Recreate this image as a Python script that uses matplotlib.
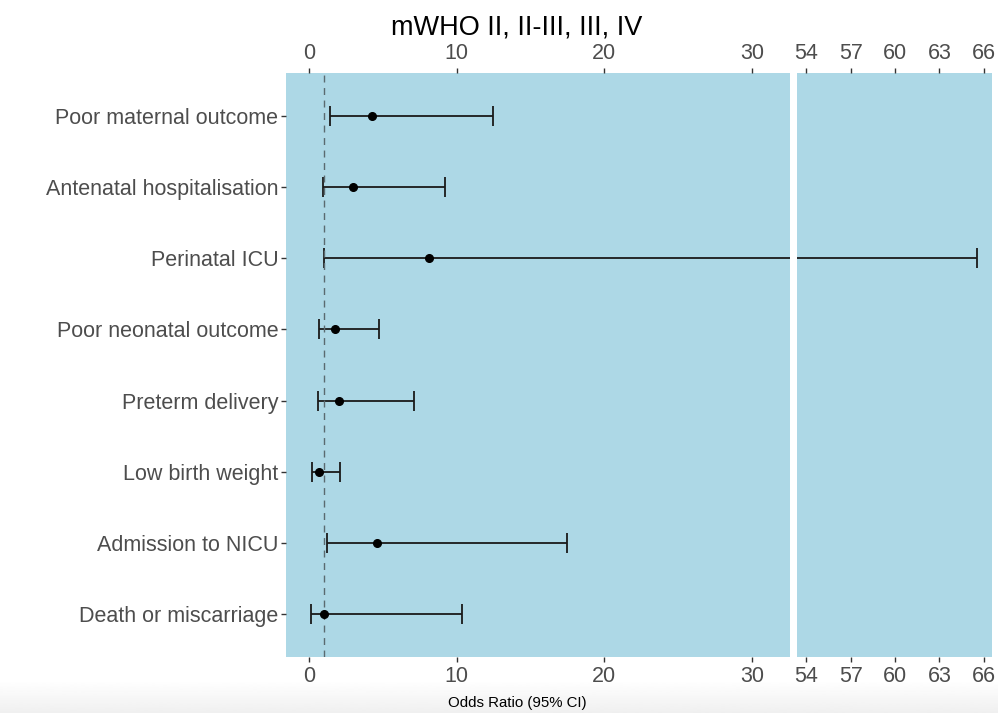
import matplotlib
matplotlib.use("Agg")
import matplotlib.pyplot as plt
import numpy as np

plt.rcParams['font.family'] = ['Liberation Sans', 'DejaVu Sans']

outcomes = ["Poor maternal outcome", "Antenatal hospitalisation", "Perinatal ICU",
            "Poor neonatal outcome", "Preterm delivery", "Low birth weight",
            "Admission to NICU", "Death or miscarriage"]
odds = [4.24, 3.0, 8.15, 1.74, 2.05, 0.65, 4.6, 1.0]
lower = [1.44, 0.97, 1.02, 0.65, 0.59, 0.18, 1.22, 0.11]
upper = [12.46, 9.2, 65.55, 4.74, 7.13, 2.08, 17.45, 10.36]

left_ticks = [0, 10, 20, 30]
right_ticks = [54, 57, 60, 63, 66]

W, H = 998, 713
fig = plt.figure(figsize=(W / 100, H / 100), dpi=100)

# faint grey band at the bottom like the screenshot
grad = fig.add_axes([0, 0, 1, 33 / H], zorder=-5)
grad.imshow(np.linspace(1.0, 0.94, 50).reshape(-1, 1), cmap='gray', vmin=0, vmax=1,
            aspect='auto', extent=[0, 1, 0, 1])
grad.axis('off')

bottom = 1 - 656.7 / H
height = (656.7 - 73.3) / H
ax1 = fig.add_axes([286 / W, bottom, (790 - 286) / W, height])
ax2 = fig.add_axes([797.3 / W, bottom, (992.3 - 797.3) / W, height])

y = np.arange(1, len(outcomes) + 1)
odds = np.array(odds)
lower = np.array(lower)
upper = np.array(upper)
xerr = [odds - lower, upper - odds]

tick_grey = '#4D4D4D'
for ax, lim, ticks in [(ax1, (-1.56, 32.57), left_ticks), (ax2, (53.39, 66.58), right_ticks)]:
    ax.set_facecolor('#ADD8E6')
    ax.errorbar(odds, y, xerr=xerr, fmt='o', color='black', ecolor='#1a1a1a',
                elinewidth=1.3, capsize=7, capthick=1.3, markersize=5.5)
    ax.set_xlim(*lim)
    ax.set_ylim(8.6, 0.4)
    ax.set_xticks(ticks)
    for s in ax.spines.values():
        s.set_visible(False)
    ax.tick_params(axis='x', top=True, labeltop=True, bottom=True, labelbottom=True,
                   length=3.5, width=1, color='#333333', labelsize=15.5,
                   labelcolor=tick_grey, pad=3)

ax1.axvline(1, color='#5a6a70', linestyle=(0, (5, 4)), linewidth=1)
ax1.set_yticks(y)
ax1.set_yticklabels(outcomes)
ax1.tick_params(axis='y', length=3.5, width=1, color='#333333', labelsize=15.5,
                labelcolor=tick_grey, pad=2)
ax2.set_yticks([])

fig.text(517 / W, 1 - 28 / H, "mWHO II, II-III, III, IV", ha='center', va='center',
         fontsize=19.5, color='black')
fig.text(517 / W, 1 - 703 / H, "Odds Ratio (95% CI)", ha='center', va='center',
         fontsize=10.8, color='black')

fig.savefig("out.png", dpi=100, facecolor='white')
